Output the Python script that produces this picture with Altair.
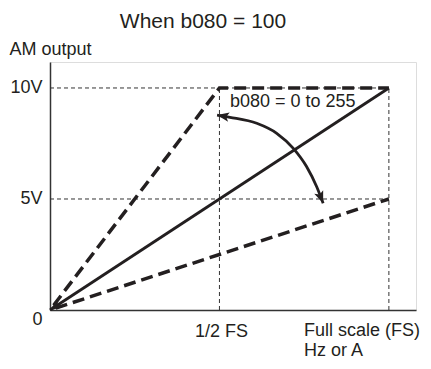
import altair as alt
import pandas as pd

# x in units of full scale (FS), y in volts
solid_x = [0, 1]
solid_y = [0, 10]
steep_x = [0, 0.5, 1]
steep_y = [0, 10, 10]
shallow_x = [0, 1]
shallow_y = [0, 5]

grid_h_y = [10, 5]
grid_v_x = [0.5, 1]
grid_x_end = 1
grid_y_end = 10

# curved double arrow
arc_x = [0.493, 0.531, 0.610, 0.669, 0.718, 0.757, 0.787, 0.806]
arc_y = [8.78, 8.68, 8.41, 7.96, 7.28, 6.46, 5.55, 4.81]

y_ticks = [0, 5, 10]
y_tick_labels = ["0", "5V", "10V"]
x_ticks = [0.5, 1]
x_tick_labels = ["1/2 FS", "Full scale (FS)\nHz or A"]
title_text = "When b080 = 100"
y_title = "AM output"
range_text = "b080 = 0 to 255"
x_max = 1.08
y_max = 11.17

INK = "#231f20"
FONT = "Liberation Sans"
ARROW = "M0,0 L0.8,2 L0,1.55 L-0.8,2 Z"
head_angles = [236.8, 280, 158.3]

xscale = alt.Scale(domain=[0, x_max], nice=False, zero=False)
yscale = alt.Scale(domain=[0, y_max], nice=False, zero=False)

label_expr = " : ".join(
    f"datum.value == {v} ? '{l}'" for v, l in zip(y_ticks[1:], y_tick_labels[1:])
) + f" : '{y_tick_labels[0]}'"

xaxis = alt.Axis(values=x_ticks, labels=False, ticks=False, grid=False, title=None,
                 domainColor="#333", domainWidth=1.5)
yaxis = alt.Axis(values=y_ticks, labelExpr=label_expr, ticks=False, grid=False,
                 domainColor="#333", domainWidth=1.5,
                 labelFontSize=18, labelFont=FONT, labelColor=INK, labelPadding=8,
                 labelBaseline=alt.condition("datum.value == 0", alt.value("top"), alt.value("middle")),
                 title=y_title, titleAngle=0, titleAlign="left", titleBaseline="alphabetic",
                 titleX=-41, titleY=-8, titleFontSize=18, titleFont=FONT,
                 titleFontWeight="normal", titleColor=INK)


def X(f="x"):
    return alt.X(f"{f}:Q", scale=xscale, axis=xaxis)


def Y(f="y"):
    return alt.Y(f"{f}:Q", scale=yscale, axis=yaxis)


solid_df = pd.DataFrame({"x": solid_x, "y": solid_y})
steep_df = pd.DataFrame({"x": steep_x, "y": steep_y})
shallow_df = pd.DataFrame({"x": shallow_x, "y": shallow_y})
arc_df = pd.DataFrame({"x": arc_x, "y": arc_y, "i": range(len(arc_x))})
hgrid_df = pd.DataFrame({"y": grid_h_y, "x": [0] * len(grid_h_y), "x2": [grid_x_end] * len(grid_h_y)})
vgrid_df = pd.DataFrame({"x": grid_v_x, "y": [0] * len(grid_v_x), "y2": [grid_y_end] * len(grid_v_x)})
heads_df = pd.DataFrame({
    "x": [solid_x[0], arc_x[0], arc_x[-1]],
    "y": [solid_y[0], arc_y[0], arc_y[-1]],
    "angle": head_angles,
})

hgrid = alt.Chart(hgrid_df).mark_rule(strokeDash=[4, 3], strokeWidth=1, color="#333").encode(
    x=X(), x2="x2:Q", y=Y())
vgrid = alt.Chart(vgrid_df).mark_rule(strokeDash=[4, 3], strokeWidth=1, color="#333").encode(
    x=X(), y=Y(), y2="y2:Q")

solid = alt.Chart(solid_df).mark_line(color=INK, strokeWidth=2.8).encode(x=X(), y=Y())
steep = alt.Chart(steep_df).mark_line(color=INK, strokeWidth=3.5, strokeDash=[12, 6],
                                      strokeDashOffset=-6).encode(x=X(), y=Y())
shallow = alt.Chart(shallow_df).mark_line(color=INK, strokeWidth=3.5, strokeDash=[12, 6],
                                          strokeDashOffset=-6).encode(x=X(), y=Y())
arc = alt.Chart(arc_df).mark_line(color=INK, strokeWidth=2.8, interpolate="monotone").encode(
    x=X(), y=Y(), order="i:Q")
heads = alt.Chart(heads_df).mark_point(shape=ARROW, filled=True, size=144, color=INK,
                                       opacity=1, strokeWidth=0).encode(
    x=X(), y=Y(), angle=alt.Angle("angle:Q", scale=None))

half_lbl = alt.Chart(pd.DataFrame({"x": [x_ticks[0]], "y": [0], "t": [x_tick_labels[0]]})).mark_text(
    align="center", baseline="alphabetic", dx=2, dy=27, fontSize=18, font=FONT, color=INK
).encode(x=X(), y=Y(), text="t:N")
fs_lbl = alt.Chart(pd.DataFrame({"x": [x_ticks[1]], "y": [0], "t": [x_tick_labels[1]]})).mark_text(
    align="left", baseline="alphabetic", dx=-85, dy=26, fontSize=18, font=FONT, color=INK,
    lineBreak="\n", lineHeight=20
).encode(x=X(), y=Y(), text="t:N")
rng_lbl = alt.Chart(pd.DataFrame({"x": [grid_v_x[0]], "y": [grid_y_end], "t": [range_text]})).mark_text(
    align="left", baseline="alphabetic", dx=10.5, dy=19, fontSize=18, font=FONT, color=INK
).encode(x=X(), y=Y(), text="t:N")

chart = alt.layer(hgrid, vgrid, shallow, steep, solid, arc, heads, half_lbl, fs_lbl, rng_lbl).properties(
    width=366, height=248,
    autosize=alt.AutoSizeParams(type="none"),
    padding={"left": 42, "top": 54, "right": 7, "bottom": 51},
    title=alt.TitleParams(title_text, fontSize=21, fontWeight="normal", font=FONT, color=INK,
                          anchor="middle", dx=-30, offset=8),
).configure_view(stroke=None).configure(background="white")

chart.save("out.html", embed_options={"renderer": "svg", "actions": False})
